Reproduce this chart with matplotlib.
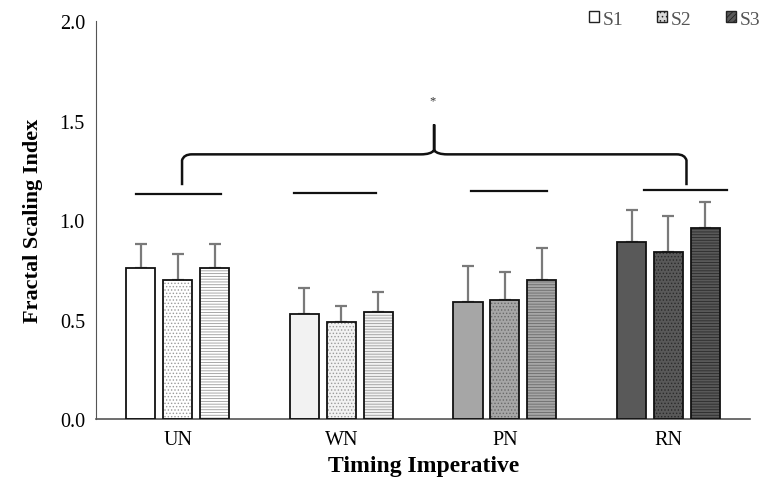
import matplotlib as mpl
mpl.use('Agg')
import matplotlib.pyplot as plt
from matplotlib.patches import Patch
from matplotlib.path import Path
from matplotlib.patches import PathPatch
import numpy as np

plt.rcParams['font.family'] = ['Liberation Serif', 'DejaVu Serif']
plt.rcParams['hatch.linewidth'] = 0.6

groups = ['UN', 'WN', 'PN', 'RN']
sessions = ['S1', 'S2', 'S3']
means = {
    'S1': [0.76, 0.53, 0.59, 0.89],
    'S2': [0.70, 0.49, 0.60, 0.84],
    'S3': [0.76, 0.54, 0.70, 0.96],
}
errs = {
    'S1': [0.12, 0.13, 0.18, 0.16],
    'S2': [0.13, 0.08, 0.14, 0.18],
    'S3': [0.12, 0.10, 0.16, 0.13],
}
group_colors = ['#ffffff', '#f2f2f2', '#a6a6a6', '#595959']
hatch_colors = ['#9a9a9a', '#9a9a9a', '#6a6a6a', '#2a2a2a']
hatches = {'S1': '', 'S2': '.....', 'S3': '------'}

# group lines (x start, x end, y)
group_lines = [(-0.255, 0.265, 1.13), (0.71, 1.21, 1.135), (1.79, 2.26, 1.145), (2.85, 3.36, 1.15)]

fig = plt.figure(figsize=(7.59, 4.89), dpi=100)
ax = fig.add_axes([0.1265, 0.141, 0.862, 0.814])

x = np.arange(len(groups))
width = 0.178
offsets = [-0.226, 0, 0.226]
for k, s in enumerate(sessions):
    xs = x + offsets[k]
    for i in range(len(groups)):
        ax.bar(xs[i], means[s][i], width, color=group_colors[i], edgecolor=hatch_colors[i],
               hatch=hatches[s], linewidth=0, zorder=2)
        ax.bar(xs[i], means[s][i], width, facecolor='none', edgecolor='#111111',
               linewidth=1.3, zorder=3)
    ax.errorbar(xs, means[s], yerr=[np.zeros(4), errs[s]], fmt='none', ecolor='#7a7a7a',
                elinewidth=1.6, capsize=4.5, capthick=1.6, zorder=1)

for x0, x1, y in group_lines:
    ax.plot([x0, x1], [y, y], color='#111111', lw=1.6, clip_on=False)

# brace
xl, xr, xm = 0.026, 3.11, 1.567
yb, yh, yp = 1.175, 1.33, 1.48
verts = [(xl, yb), (xl, yh - 0.03), (xl + 0.01, yh), (xl + 0.06, yh),
         (xm - 0.08, yh), (xm - 0.02, yh), (xm, yh + 0.02), (xm, yp),
         (xm, yh + 0.02), (xm + 0.02, yh), (xm + 0.08, yh),
         (xr - 0.06, yh), (xr - 0.01, yh), (xr, yh - 0.03), (xr, yb)]
codes = [Path.MOVETO, Path.LINETO, Path.CURVE3, Path.CURVE3,
         Path.LINETO, Path.CURVE3, Path.CURVE3, Path.LINETO,
         Path.LINETO, Path.CURVE3, Path.CURVE3,
         Path.LINETO, Path.CURVE3, Path.CURVE3, Path.LINETO]
ax.add_patch(PathPatch(Path(verts, codes), facecolor='none', edgecolor='#111111', lw=1.8))
ax.text(xm - 0.01, 1.57, '*', ha='center', va='bottom', fontsize=9, color='#333333')

ax.set_xlim(-0.5, 3.5)
ax.set_ylim(0, 2.0)
ax.set_yticks([0.0, 0.5, 1.0, 1.5, 2.0])
ax.set_yticklabels(['0.0', '0.5', '1.0', '1.5', '2.0'], fontsize=14.5)
ax.set_xticks(x)
ax.set_xticklabels(groups, fontsize=14.5)
ax.tick_params(axis='both', length=0, pad=8)
ax.spines['top'].set_visible(False)
ax.spines['right'].set_visible(False)
ax.spines['left'].set_color('#555555')
ax.spines['bottom'].set_color('#555555')
ax.spines['bottom'].set_linewidth(1.2)
ax.set_ylabel('Fractal Scaling Index', fontsize=16, fontweight='bold', labelpad=12)
ax.set_xlabel('Timing Imperative', fontsize=17, fontweight='bold', labelpad=4)

handles = [Patch(facecolor='#ffffff', edgecolor='#222222', lw=1.0, label='S1'),
           Patch(facecolor='#d9d9d9', edgecolor='#222222', hatch='....', lw=1.0, label='S2'),
           Patch(facecolor='#595959', edgecolor='#222222', hatch='//////', lw=1.0, label='S3')]
leg = ax.legend(handles=handles, ncol=3, frameon=False, loc='upper right',
                bbox_to_anchor=(1.015, 1.026), fontsize=14, handlelength=0.5, handleheight=0.47,
                handletextpad=0.2, columnspacing=1.75, borderpad=0, borderaxespad=0,
                labelcolor='#555555')

plt.savefig('out.png', dpi=100)
plt.close()
